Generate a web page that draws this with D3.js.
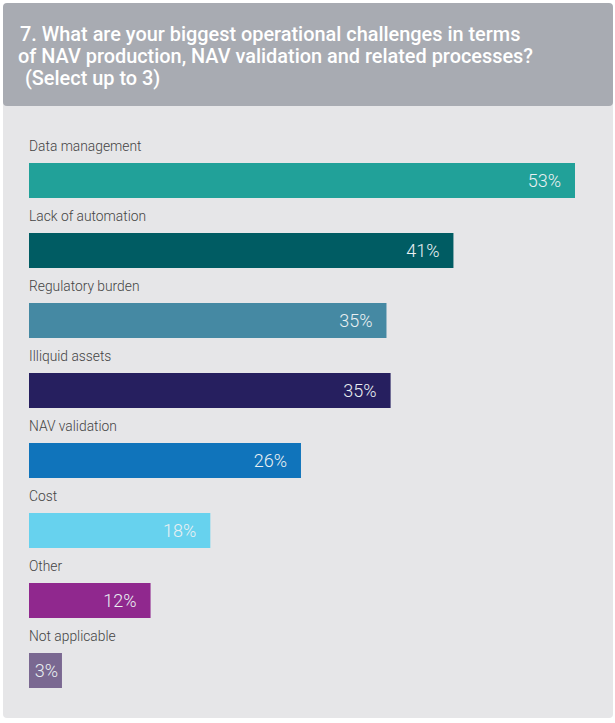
<!DOCTYPE html>
<html>
<head>
<meta charset="utf-8">
<script src="https://cdn.jsdelivr.net/npm/d3@7"></script>
<style>
  body { margin: 0; background: #fff; }
  svg { display: block; }
</style>
</head>
<body>
<div id="chart"></div>
<script>
// survey answers, top to bottom
var categories = ["Data management", "Lack of automation", "Regulatory burden", "Illiquid assets",
                  "NAV validation", "Cost", "Other", "Not applicable"];
var values = [53, 41.2, 34.7, 35.1, 26.4, 17.6, 11.8, 3.2];
var barColors = ["#21a199", "#005c63", "#4589a3", "#261f5f", "#1074bb", "#67d2ee", "#90288e", "#7a6891"];
var titleLines = ["7. What are your biggest operational challenges in terms",
                  "of NAV production, NAV validation and related processes?",
                  " (Select up to 3)"];

var data = categories.map(function(c, i) {
  return { label: c, value: values[i], color: barColors[i] };
});

var width = 615, height = 723;

var svg = d3.select("#chart").append("svg")
    .attr("width", width)
    .attr("height", height);

// body panel + header panel
svg.append("rect")
    .attr("x", 3).attr("y", 6)
    .attr("width", 610).attr("height", 712)
    .attr("rx", 4).attr("ry", 4)
    .attr("fill", "#e6e6e8");

svg.append("rect")
    .attr("x", 3).attr("y", 3)
    .attr("width", 610).attr("height", 103)
    .attr("rx", 4).attr("ry", 4)
    .attr("fill", "#a8abb2");

svg.append("g").selectAll("text")
    .data(titleLines)
    .enter().append("text")
      .attr("x", function(d, i) { return i == 1 ? 18 : 20; })
      .attr("y", function(d, i) { return 41 + i * 22; })
      .attr("fill", "#ffffff")
      .style("font-family", "Roboto, sans-serif")
      .style("font-weight", 500)
      .style("font-size", "19.9px")
      .style("white-space", "pre")
      .text(function(d) { return d; });

// scales
var x = d3.scaleLinear()
    .domain([0, d3.max(values)])
    .range([29, 575]);

var y = d3.scaleBand()
    .domain(categories)
    .range([163, 688])
    .paddingInner(0.5)
    .paddingOuter(0);

var rows = svg.append("g").selectAll(".row")
    .data(data)
    .enter().append("g")
      .attr("class", "row");

rows.append("text")
    .attr("x", x(0))
    .attr("y", function(d) { return y(d.label) - 12; })
    .attr("fill", "#444444")
    .style("font-family", "Roboto, sans-serif")
    .style("font-weight", 300)
    .style("font-size", "13.8px")
    .text(function(d) { return d.label; });

rows.append("rect")
    .attr("x", x(0))
    .attr("y", function(d) { return y(d.label); })
    .attr("width", function(d) { return x(d.value) - x(0); })
    .attr("height", y.bandwidth())
    .attr("fill", function(d) { return d.color; });

rows.append("text")
    .attr("x", function(d) {
      var w = x(d.value) - x(0);
      return w < 60 ? x(0) + w / 2 + 1 : x(d.value) - 14;
    })
    .attr("y", function(d) { return y(d.label) + y.bandwidth() / 2; })
    .attr("dy", "0.36em")
    .attr("text-anchor", function(d) { return (x(d.value) - x(0)) < 60 ? "middle" : "end"; })
    .attr("fill", "#eaf0f2")
    .style("font-family", "Roboto, sans-serif")
    .style("font-weight", 300)
    .style("font-size", "18px")
    .text(function(d) { return Math.round(d.value) + "%"; });
</script>
</body>
</html>
